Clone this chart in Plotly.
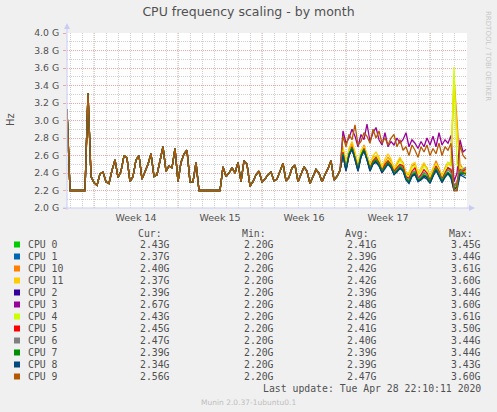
import pandas as pd
import plotly.graph_objects as go

# munin "by month" view: 6 hour steps from Mar 27 18:00
times = pd.date_range("2020-03-27 18:00", periods=134, freq="6h")
x_start = pd.Timestamp("2020-03-27 18:00")
x_end = pd.Timestamp("2020-04-30 02:00")

# all cores ran in lockstep up to the weekend before week 17 (GHz)
shared = [3.13, 2.2, 2.2, 2.2, 2.2, 2.2, 2.2, 3.31, 2.36, 2.29,
          2.26, 2.39, 2.41, 2.3, 2.28, 2.43, 2.55, 2.35, 2.42, 2.6,
          2.57, 2.3, 2.36, 2.55, 2.6, 2.33, 2.42, 2.5, 2.62, 2.36,
          2.38, 2.55, 2.7, 2.42, 2.48, 2.46, 2.68, 2.3, 2.52, 2.62,
          2.66, 2.3, 2.3, 2.52, 2.2, 2.2, 2.2, 2.2, 2.2, 2.2,
          2.2, 2.2, 2.47, 2.36, 2.4, 2.46, 2.4, 2.52, 2.3, 2.54,
          2.5, 2.25, 2.3, 2.38, 2.42, 2.3, 2.33, 2.38, 2.41, 2.31,
          2.33, 2.42, 2.51, 2.31, 2.35, 2.46, 2.49, 2.3, 2.38, 2.47,
          2.42, 2.28, 2.36, 2.44, 2.4, 2.3, 2.38, 2.45, 2.54, 2.32,
          2.36, 2.43]

# from week 17 every core goes its own way
tail_cpu0 = [2.63, 2.45, 2.62, 2.7, 2.58, 2.45, 2.6, 2.67, 2.57, 2.45, 2.53, 2.56, 2.51, 2.42,
             2.48, 2.53, 2.48, 2.4, 2.44, 2.49, 2.46, 2.35, 2.31, 2.4, 2.42, 2.33, 2.36, 2.4,
             2.38, 2.31, 2.4, 2.47, 2.4, 2.32, 2.4, 2.46, 2.42, 2.24, 2.28, 2.41, 2.42, 2.43]
tail_cpu1 = [2.61, 2.43, 2.61, 2.68, 2.56, 2.43, 2.59, 2.66, 2.56, 2.43, 2.51, 2.54, 2.49, 2.41,
             2.46, 2.51, 2.47, 2.39, 2.42, 2.46, 2.43, 2.33, 2.29, 2.37, 2.39, 2.31, 2.33, 2.37,
             2.35, 2.29, 2.37, 2.44, 2.37, 2.3, 2.36, 2.4, 2.36, 2.21, 2.24, 2.39, 2.38, 2.37]
tail_cpu10 = [2.68, 2.5, 2.66, 2.74, 2.62, 2.48, 2.62, 2.72, 2.6, 2.5, 2.58, 2.6, 2.56, 2.46,
              2.52, 2.58, 2.54, 2.44, 2.5, 2.56, 2.52, 2.4, 2.38, 2.48, 2.5, 2.38, 2.42, 2.5,
              2.46, 2.36, 2.44, 2.54, 2.46, 2.36, 2.46, 2.52, 2.5, 3.5, 3.0, 2.5, 2.45, 2.4]
tail_cpu11 = [2.7, 2.52, 2.68, 2.76, 2.64, 2.5, 2.66, 2.7, 2.62, 2.48, 2.6, 2.64, 2.58, 2.46,
              2.56, 2.62, 2.56, 2.44, 2.52, 2.58, 2.5, 2.4, 2.4, 2.5, 2.52, 2.4, 2.46, 2.52,
              2.44, 2.36, 2.46, 2.5, 2.44, 2.36, 2.44, 2.5, 2.48, 3.4, 2.9, 2.46, 2.42, 2.37]
tail_cpu2 = [2.61, 2.43, 2.6, 2.68, 2.56, 2.43, 2.59, 2.66, 2.55, 2.43, 2.51, 2.53, 2.49, 2.41,
             2.46, 2.51, 2.47, 2.39, 2.42, 2.46, 2.43, 2.33, 2.29, 2.37, 2.39, 2.31, 2.33, 2.37,
             2.35, 2.29, 2.37, 2.44, 2.37, 2.3, 2.36, 2.4, 2.36, 2.21, 2.24, 2.39, 2.4, 2.39]
tail_cpu3 = [2.88, 2.74, 2.8, 2.9, 2.82, 2.7, 2.84, 2.78, 2.96, 2.76, 2.86, 2.92, 2.78, 2.72,
             2.86, 2.7, 2.76, 2.72, 2.8, 2.74, 2.78, 2.86, 2.7, 2.78, 2.74, 2.68, 2.76, 2.7,
             2.8, 2.72, 2.82, 2.7, 2.86, 2.72, 2.78, 2.74, 2.83, 2.3, 2.4, 2.78, 2.64, 2.67]
tail_cpu4 = [2.66, 2.48, 2.64, 2.7, 2.6, 2.48, 2.64, 2.68, 2.58, 2.48, 2.56, 2.6, 2.55, 2.45,
             2.5, 2.56, 2.52, 2.43, 2.48, 2.54, 2.5, 2.38, 2.36, 2.46, 2.48, 2.38, 2.42, 2.48,
             2.44, 2.34, 2.42, 2.5, 2.44, 2.35, 2.44, 2.52, 2.5, 3.61, 2.5, 2.45, 2.46, 2.43]
tail_cpu5 = [2.64, 2.46, 2.6, 2.7, 2.58, 2.46, 2.6, 2.68, 2.56, 2.46, 2.54, 2.58, 2.52, 2.43,
             2.5, 2.54, 2.5, 2.42, 2.46, 2.5, 2.48, 2.36, 2.34, 2.42, 2.46, 2.34, 2.38, 2.44,
             2.4, 2.32, 2.4, 2.48, 2.42, 2.33, 2.4, 2.46, 2.44, 2.25, 2.3, 2.44, 2.42, 2.45]
tail_cpu6 = [2.62, 2.45, 2.62, 2.68, 2.57, 2.44, 2.6, 2.66, 2.56, 2.44, 2.52, 2.56, 2.5, 2.42,
             2.47, 2.52, 2.48, 2.4, 2.44, 2.48, 2.45, 2.34, 2.31, 2.4, 2.42, 2.33, 2.36, 2.41,
             2.38, 2.3, 2.39, 2.46, 2.4, 2.32, 2.38, 2.44, 2.4, 2.24, 2.3, 2.42, 2.44, 2.47]
tail_cpu7 = [2.62, 2.44, 2.62, 2.69, 2.57, 2.44, 2.6, 2.67, 2.56, 2.44, 2.52, 2.55, 2.5, 2.42,
             2.47, 2.52, 2.48, 2.4, 2.43, 2.47, 2.44, 2.34, 2.3, 2.38, 2.4, 2.32, 2.34, 2.38,
             2.36, 2.3, 2.38, 2.45, 2.38, 2.31, 2.37, 2.41, 2.37, 2.22, 2.25, 2.4, 2.4, 2.39]
tail_cpu8 = [2.6, 2.42, 2.6, 2.67, 2.55, 2.42, 2.58, 2.65, 2.55, 2.42, 2.5, 2.52, 2.48, 2.4,
             2.45, 2.5, 2.46, 2.38, 2.41, 2.45, 2.42, 2.32, 2.28, 2.36, 2.38, 2.3, 2.32, 2.35,
             2.33, 2.28, 2.36, 2.43, 2.36, 2.29, 2.35, 2.39, 2.34, 2.2, 2.2, 2.38, 2.36, 2.34]
tail_cpu9 = [2.82, 2.7, 2.84, 2.78, 2.95, 2.72, 2.76, 2.86, 2.82, 2.74, 2.9, 2.8, 2.88, 2.74,
             2.8, 2.72, 2.8, 2.84, 2.7, 2.78, 2.66, 2.7, 2.6, 2.72, 2.66, 2.58, 2.7, 2.64,
             2.72, 2.6, 2.68, 2.62, 2.74, 2.6, 2.7, 2.66, 2.74, 2.2, 2.2, 2.72, 2.6, 2.56]

cpu_names = ["CPU 0", "CPU 1", "CPU 10", "CPU 11", "CPU 2", "CPU 3",
             "CPU 4", "CPU 5", "CPU 6", "CPU 7", "CPU 8", "CPU 9"]
cpu_colors = ["#00CC00", "#0066B3", "#FF8000", "#FFCC00", "#330099", "#990099",
              "#CCFF00", "#FF0000", "#808080", "#008F00", "#00487D", "#B35A00"]
tails = [tail_cpu0, tail_cpu1, tail_cpu10, tail_cpu11, tail_cpu2, tail_cpu3,
         tail_cpu4, tail_cpu5, tail_cpu6, tail_cpu7, tail_cpu8, tail_cpu9]

# legend table values
cur_vals = ["2.43G", "2.37G", "2.40G", "2.37G", "2.39G", "2.67G", "2.43G", "2.45G", "2.47G", "2.39G", "2.34G", "2.56G"]
min_vals = ["2.20G"] * 12
avg_vals = ["2.41G", "2.39G", "2.42G", "2.42G", "2.39G", "2.48G", "2.42G", "2.41G", "2.40G", "2.39G", "2.39G", "2.47G"]
max_vals = ["3.45G", "3.44G", "3.61G", "3.60G", "3.44G", "3.60G", "3.61G", "3.50G", "3.44G", "3.44G", "3.43G", "3.60G"]

y_ticks = [2.0, 2.2, 2.4, 2.6, 2.8, 3.0, 3.2, 3.4, 3.6, 3.8, 4.0]
y_ticktext = ["2.0 G", "2.2 G", "2.4 G", "2.6 G", "2.8 G", "3.0 G", "3.2 G", "3.4 G", "3.6 G", "3.8 G", "4.0 G"]
week_labels = ["Week 14", "Week 15", "Week 16", "Week 17"]
week_mid = pd.to_datetime(["2020-04-02 12:00", "2020-04-09 12:00", "2020-04-16 12:00", "2020-04-23 12:00"])
week_start = pd.to_datetime(["2020-03-30", "2020-04-06", "2020-04-13", "2020-04-20", "2020-04-27"])

MONO = "DejaVu Sans Mono"
SANS = "DejaVu Sans"
TXT = "#505050"
AXIS = "#C8CCF5"
MGRID = "#EDA5A5"
GRID = "#CFCFCF"

# plot area is 400x175 px at (67, 33)
def px(x):
    return (x - 67) / 400

def py(y):
    return (208 - y) / 175

fig = go.Figure()
for name, color, tail in zip(cpu_names, cpu_colors, tails):
    fig.add_trace(go.Scatter(x=times, y=shared + tail, name=name, mode="lines",
                             line=dict(color=color, width=1.3)))

shapes = []
for w in week_start:
    shapes.append(dict(type="line", xref="x", yref="paper", x0=w, x1=w, y0=0, y1=1,
                       line=dict(color=MGRID, width=1, dash="1px,1px"), layer="between"))
# axis lines with arrows
shapes.append(dict(type="line", xref="paper", yref="paper", x0=px(67), x1=px(67), y0=py(210), y1=py(27),
                   line=dict(color=AXIS, width=1)))
shapes.append(dict(type="line", xref="paper", yref="paper", x0=px(63), x1=px(472), y0=py(208), y1=py(208),
                   line=dict(color=AXIS, width=1)))
shapes.append(dict(type="path", xref="paper", yref="paper",
                   path=f"M {px(64)} {py(29)} L {px(70)} {py(29)} L {px(67)} {py(23)} Z",
                   fillcolor=AXIS, line=dict(width=0)))
shapes.append(dict(type="path", xref="paper", yref="paper",
                   path=f"M {px(469)} {py(205)} L {px(469)} {py(211)} L {px(475)} {py(208)} Z",
                   fillcolor=AXIS, line=dict(width=0)))
# legend colour boxes
for i, color in enumerate(cpu_colors):
    yc = 244.5 + 12 * i
    shapes.append(dict(type="rect", xref="paper", yref="paper", x0=px(14), x1=px(20),
                       y0=py(yc + 3), y1=py(yc - 3), fillcolor=color, line=dict(width=0)))


def note(text, x, y, anchor="left", size=9.8, family=MONO, color=TXT, angle=0):
    return dict(text=text, x=px(x), y=py(y), xref="paper", yref="paper", xanchor=anchor,
                yanchor="middle", textangle=angle, showarrow=False,
                font=dict(family=family, size=size, color=color))


ann = [note("Hz", 10, 120, "center", 10, SANS, angle=-90),
       note("RRDTOOL / TOBI OETIKER", 488, 56, "center", 7, SANS, "#C8C8C8", 90)]
for label, left in zip(["Cur:", "Min:", "Avg:", "Max:"], [136, 240, 343, 447]):
    ann.append(note(label, left, 233))
for i, name in enumerate(cpu_names):
    yc = 244 + 12 * i
    ann.append(note(name, 26, yc))
    for col, right in zip([cur_vals, min_vals, avg_vals, max_vals], [172, 276, 379, 483]):
        ann.append(note(col[i], right, yc, "right"))
ann.append(note("Last update: Tue Apr 28 22:10:11 2020", 483, 388, "right"))
ann.append(note("Munin 2.0.37-1ubuntu0.1", 248, 402, "center", 7.5, SANS, "#BEBEBE"))

fig.update_layout(
    width=497, height=412,
    margin=dict(l=67, r=30, t=33, b=204, autoexpand=False),
    paper_bgcolor="#F0F0F0", plot_bgcolor="white",
    showlegend=False,
    title=dict(text="CPU frequency scaling - by month", x=0.5, xref="container", xanchor="center",
               y=1 - 12 / 412, yref="container", yanchor="middle",
               font=dict(family=SANS, size=12.5, color=TXT)),
    shapes=shapes, annotations=ann,
)
fig.update_xaxes(range=[x_start, x_end], tickmode="array", tickvals=week_mid, ticktext=week_labels,
                 showgrid=False, zeroline=False, showline=False, ticks="", ticklabelstandoff=2,
                 tickfont=dict(family=SANS, size=9.5, color=TXT),
                 minor=dict(tickmode="linear", tick0="2020-03-28", dtick=86400000, showgrid=True,
                            gridcolor=GRID, griddash="1px,1px", gridwidth=1))
fig.update_yaxes(range=[2.0, 4.0], tickmode="array", tickvals=y_ticks, ticktext=y_ticktext,
                 showgrid=True, gridcolor=MGRID, griddash="1px,1px", gridwidth=1,
                 zeroline=False, showline=False, ticks="outside", ticklen=3, tickcolor=MGRID,
                 ticklabelstandoff=2, tickfont=dict(family=SANS, size=9.3, color=TXT),
                 minor=dict(tickmode="linear", tick0=2.0, dtick=0.1, showgrid=True,
                            gridcolor=GRID, griddash="1px,1px", gridwidth=1))

# page body has a default 8px margin, drop it so the figure sits at 0,0
fig.write_html("out.html", config={"displayModeBar": False},
               post_script="document.body.style.margin = '0';")
